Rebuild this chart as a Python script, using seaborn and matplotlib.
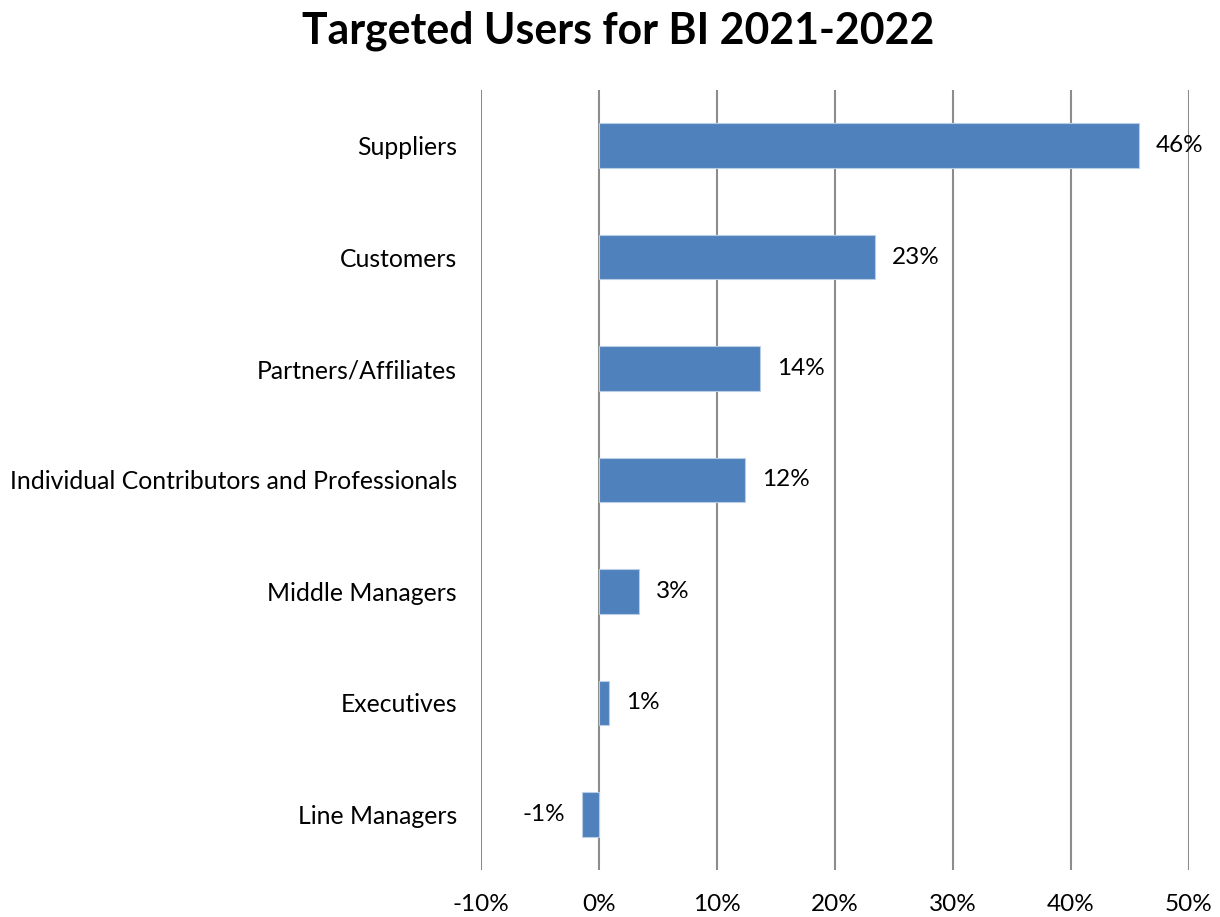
import matplotlib
matplotlib.use("Agg")
import matplotlib.pyplot as plt
import seaborn as sns
import pandas as pd
from matplotlib.ticker import FuncFormatter

# Share of respondents targeting each user group (percent)
categories = [
    "Suppliers",
    "Customers",
    "Partners/Affiliates",
    "Individual Contributors and Professionals",
    "Middle Managers",
    "Executives",
    "Line Managers",
]
values = [45.8, 23.4, 13.7, 12.4, 3.4, 0.9, -1.4]
x_ticks = [-10, 0, 10, 20, 30, 40, 50]

df = pd.DataFrame({"group": categories, "share": values})

sns.set_theme(style="white")
plt.rcParams["font.family"] = ["Lato", "DejaVu Sans"]

fig = plt.figure(figsize=(12.2, 9.17), dpi=100)
ax = fig.add_axes([0.394, 0.0513, 0.5806, 0.8506])

sns.barplot(
    data=df, x="share", y="group", orient="h", order=categories,
    color="#4F81BD", saturation=1, width=0.4,
    edgecolor="#B9CDE5", linewidth=0.8, ax=ax, zorder=3,
)

ax.set_xlim(-10, 50)
ax.set_ylim(6.5, -0.5)
ax.set_xticks(x_ticks)
ax.xaxis.set_major_formatter(FuncFormatter(lambda v, _: f"{v:.0f}%"))
ax.grid(axis="x", color="#8C8C8C", linewidth=1.5, zorder=1)
ax.grid(axis="y", visible=False)
for s in ax.spines.values():
    s.set_visible(False)
ax.tick_params(axis="x", length=0, pad=17, labelsize=17.5, colors="black")
ax.tick_params(axis="y", length=0, pad=17, labelsize=17.8, colors="black")
ax.set_xlabel("")
ax.set_ylabel("")

# Value labels beside each bar
for i, v in enumerate(values):
    if v >= 0:
        ax.annotate(f"{v:.0f}%", (v, i), xytext=(12, 0), textcoords="offset points",
                    ha="left", va="center", fontsize=17.5, color="black")
    else:
        ax.annotate(f"{v:.0f}%", (v, i), xytext=(-12, 0), textcoords="offset points",
                    ha="right", va="center", fontsize=17.5, color="black")

fig.text(0.5066, 0.967, "Targeted Users for BI 2021-2022", ha="center", va="center",
         fontsize=30.8, fontweight="bold", color="black")

fig.savefig("out.png", dpi=100)
